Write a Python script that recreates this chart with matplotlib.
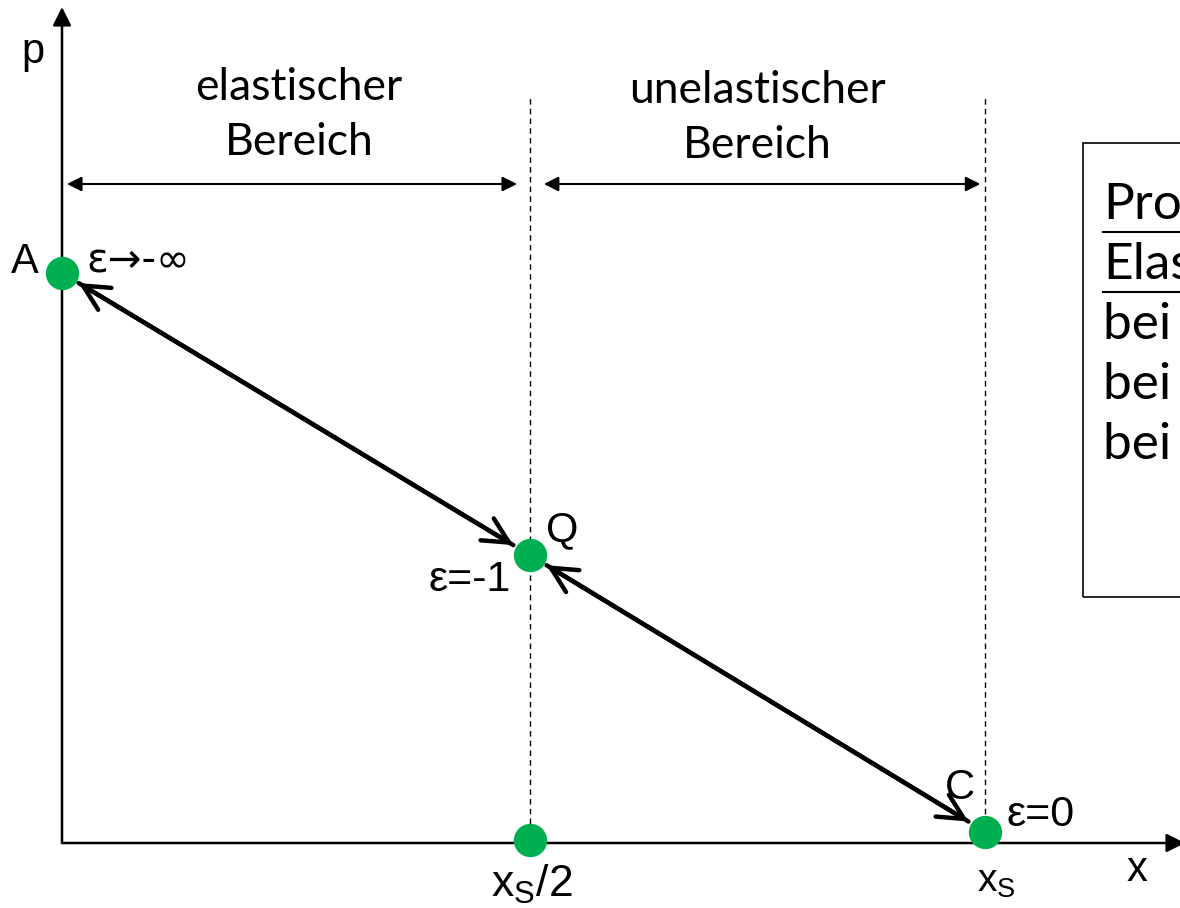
import numpy as np
import matplotlib.pyplot as plt
from matplotlib.patches import Rectangle

# points of the linear demand curve (x in units of x_S, p in units of p_A)
pt_names = ["A", "Q", "C"]
pt_x = [0.0, 0.507, 1.0]
pt_p = [1.0, 0.505, 0.02]
eps_labels = ["\u03b5\u2192-\u221e", "\u03b5=-1", "\u03b5=0"]
half_x, half_p = 0.507, 0.005
box_lines = ["Prozentuale", "Elastizit\u00e4t:", "bei A: \u03b5\u2192-\u221e",
             "bei Q: \u03b5=-1", "bei C: \u03b5=0"]

green = "#00B050"
sans = ["Lato", "DejaVu Sans"]
arial = ["Liberation Sans", "DejaVu Sans"]

fig = plt.figure(figsize=(11.8, 9.08), dpi=100)
ax = fig.add_axes([0, 0, 1, 1])
# pixel frame: origin at (62, 843), x_S at 985 px, p_A at 273 px
sx, sy = 923.0, 570.0
ax.set_xlim(-62 / sx, 1118 / sx)
ax.set_ylim(-65 / sy, 843 / sy)
ax.axis("off")

def px(x, y):
    # pixel position -> data position
    return ((x - 62) / sx, (843 - y) / sy)

# coordinate axes
ax.annotate("", xy=px(1185, 843), xytext=(0, 0), annotation_clip=False,
            arrowprops=dict(arrowstyle="-|>", color="black", lw=1.8, mutation_scale=28,
                            shrinkA=0, shrinkB=0))
ax.annotate("", xy=px(62, 7), xytext=(0, 0), annotation_clip=False,
            arrowprops=dict(arrowstyle="-|>", color="black", lw=1.8, mutation_scale=28,
                            shrinkA=0, shrinkB=0))
ax.text(*px(33, 52), "p", fontsize=30, family=arial, ha="center", va="center")
ax.text(*px(1137, 870), "x", fontsize=30, family=arial, ha="center", va="center")

# dashed verticals
ax.plot([pt_x[1], pt_x[1]], [0, 745 / sy], ls=(0, (4, 3)), color="black", lw=1)
ax.plot([pt_x[2], pt_x[2]], [0, 748 / sy], ls=(0, (4, 3)), color="black", lw=1)

# range arrows
ya = 659 / sy
rng = dict(arrowstyle="<|-|>", color="black", lw=1.5, mutation_scale=22,
           shrinkA=0, shrinkB=0)
ax.annotate("", xy=(5 / sx, ya), xytext=(0.493, ya), arrowprops=rng)
ax.annotate("", xy=(0.522, ya), xytext=(0.995, ya), arrowprops=rng)
ax.text(*px(299, 115), "elastischer\nBereich", fontsize=32, family=sans,
        ha="center", va="center", linespacing=1.4)
ax.text(*px(757, 118), "unelastischer\nBereich", fontsize=32, family=sans,
        ha="center", va="center", linespacing=1.4)

# thick double arrows along the curve
arr = dict(arrowstyle="->", color="black", lw=3.2, mutation_scale=46, shrinkA=14, shrinkB=14)
ax.annotate("", xy=(pt_x[0], pt_p[0]), xytext=(pt_x[1], pt_p[1]), arrowprops=arr)
ax.annotate("", xy=(pt_x[1], pt_p[1]), xytext=(pt_x[0], pt_p[0]), arrowprops=arr)
ax.annotate("", xy=(pt_x[2], pt_p[2]), xytext=(pt_x[1], pt_p[1]), arrowprops=arr)
ax.annotate("", xy=(pt_x[1], pt_p[1]), xytext=(pt_x[2], pt_p[2]), arrowprops=arr)

# points
ax.plot(pt_x, pt_p, "o", color=green, ms=23, zorder=5)
ax.plot([half_x], [half_p], "o", color=green, ms=23, zorder=5)

# point labels
ax.text(*px(25, 262), pt_names[0], fontsize=30, family=arial, ha="center", va="center")
ax.text(*px(86, 262), eps_labels[0], fontsize=29, family=["DejaVu Sans"],
        ha="left", va="center")
ax.text(*px(562, 530), pt_names[1], fontsize=30, family=arial, ha="center", va="center")
ax.text(*px(511, 580), eps_labels[1], fontsize=31, family=arial, ha="right", va="center")
ax.text(*px(960, 788), pt_names[2], fontsize=30, family=arial, ha="center", va="center")
ax.text(*px(1006, 815), eps_labels[2], fontsize=31, family=arial, ha="left", va="center")
ax.text(*px(532, 897), "x$_\\mathregular{S}$/2", fontsize=32, family=arial,
        ha="center", va="baseline")
ax.text(*px(996, 892), "x$_\\mathregular{S}$", fontsize=28, family=arial,
        ha="center", va="baseline")

# info box (partly outside the picture)
ax.add_patch(Rectangle(px(1083, 597), 400 / sx, 454 / sy, fill=False,
                       edgecolor="black", lw=1.2, clip_on=False))
for i, line in enumerate(box_lines):
    ax.text(*px(1103, 205 + 60 * i), line, fontsize=37, family=sans,
            ha="left", va="center")
for yy in (232, 292):
    ax.plot([px(1103, yy)[0], 1.25], [px(1103, yy)[1]] * 2, color="black", lw=1.5)

fig.savefig("out.png", dpi=100)
